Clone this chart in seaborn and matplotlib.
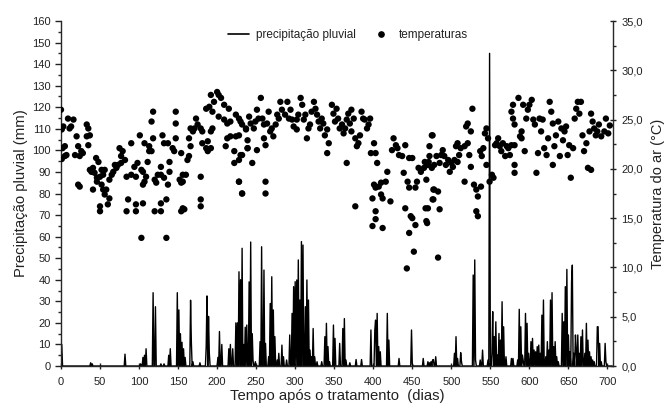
import numpy as np
import pandas as pd
import matplotlib
matplotlib.use("Agg")
import matplotlib.pyplot as plt
from matplotlib.lines import Line2D
from matplotlib.ticker import MultipleLocator, FuncFormatter
import seaborn as sns

# rain events (day after treatment, mm); all other days had no rain
rain_day = [0, 1, 38, 40, 82, 102, 105, 107, 109, 118, 121, 128, 132, 138, 140,
            149, 151, 153, 155, 157, 159, 166, 167, 169, 178, 186, 187, 189, 190,
            201, 203, 206, 215, 217, 220, 224, 226, 228, 230, 232, 234, 236, 238,
            241, 243, 245, 246, 249, 255, 257, 260, 262, 266, 268, 270, 272, 274,
            277, 279, 283, 285, 289, 293, 296, 298, 300, 302, 304, 306, 308, 310,
            313, 315, 317, 319, 321, 323, 325, 328, 334, 338, 340, 342, 344, 349,
            351, 357, 361, 363, 365, 370, 378, 385, 397, 402, 403, 405, 407, 409,
            418, 420, 433, 449, 450, 464, 470, 472, 474, 476, 477, 480, 504, 506,
            508, 512, 513, 528, 530, 531, 537, 540, 549, 547, 552, 553, 555, 557,
            559, 561, 563, 565, 567, 570, 577, 579, 585, 587, 589, 591, 592, 595,
            597, 599, 602, 604, 606, 608, 610, 612, 614, 616, 618, 621, 623, 625,
            627, 629, 631, 633, 635, 637, 642, 644, 646, 648, 650, 652, 654, 655,
            657, 659, 660, 662, 664, 666, 668, 671, 673, 675, 677, 679, 681, 683,
            687, 688, 690, 692, 697, 698]
rain_mm = [10, 10, 1.5, 1, 5.5, 1, 4, 5, 8, 34, 27.5, 1, 1, 5, 8,
           34, 26, 15, 11, 8, 4, 30.5, 11, 2, 1.5, 9, 32.5, 23, 6,
           4, 16, 10, 8, 10, 8, 20, 20, 43.7, 40, 54.6, 10, 18, 19,
           39, 57.5, 15, 2.7, 2, 11.3, 55.3, 44.5, 10.5, 4.3, 29, 41.4, 26, 13.6,
           2.8, 5.9, 9.7, 4.3, 2.8, 14.4, 24.4, 36.8, 39.1, 39.9, 49.2, 30.6, 57.7, 56.1,
           27.5, 39.9, 30.6, 7.4, 4.3, 17.4, 4.3, 2, 2, 13.6, 19.8, 9, 2, 19,
           12.8, 10.5, 17.4, 22, 2.8, 1.5, 3, 3, 16.7, 16.7, 21.3, 24.4, 9, 6.6,
           24.4, 12, 3.5, 16.7, 1, 3.5, 2, 1.5, 2, 2.8, 3, 4.3, 5.9, 13.6,
           3.5, 6.2, 2, 42.2, 49.2, 2.8, 2.8, 7.4, 145, 2.8, 5.9, 25.2, 13.6, 20.5,
           5.1, 15.1, 12, 29.8, 18.2, 4.3, 3.5, 3.5, 2.8, 26.3, 18.2, 5.1, 2.8, 24.4,
           19.8, 5.9, 11.3, 12.8, 7.4, 6.6, 9, 9.7, 5.9, 23.6, 30.6, 4.3, 11.3, 7.4,
           30.6, 34, 9, 11.3, 4.3, 2, 24.4, 20.5, 36.8, 44.8, 14.4, 6.6, 39.1, 46.8,
           5.9, 14.4, 6.6, 14.4, 5.9, 13.6, 16.7, 5.9, 19.8, 12, 6.6, 4.3, 2.8, 2,
           18.2, 18.2, 10.5, 2, 10.5, 2]

# air temperature readings (day, deg C)
temp_day = [0, 1, 2, 1, 9, 16, 11, 3, 13, 5, 7, 5, 20, 22, 18, 26, 24, 28, 33, 35, 33, 37, 35, 22, 24,
            37, 39, 41, 45, 48, 43, 46, 50, 52, 56, 54, 41, 46, 52, 54, 58, 56, 62, 50, 50, 60, 62,
            65, 67, 71, 73, 77, 75, 79, 82, 77, 69, 84, 86, 84, 90, 90, 96, 96, 94, 98, 101, 96, 105,
            107, 105, 103, 105, 103, 107, 113, 116, 113, 116, 118, 118, 111, 109, 120, 122, 124, 120,
            128, 128, 135, 135, 128, 128, 132, 130, 132, 137, 137, 139, 139, 143, 145, 147, 147, 147,
            154, 156, 152, 156, 160, 154, 154, 156, 158, 162, 164, 166, 164, 169, 173, 175, 171, 166,
            179, 181, 179, 179, 179, 181, 186, 188, 188, 192, 192, 194, 186, 190, 194, 192, 196, 200,
            202, 205, 202, 209, 215, 209, 213, 217, 224, 213, 217, 224, 228, 237, 230, 211, 222, 222,
            228, 232, 230, 228, 239, 239,
            228, 232, 262, 262, 232, 239, 245, 251, 260, 262,
            228, 232, 237, 241, 243, 247, 249, 251, 256, 253, 258, 260, 264, 266, 268, 270,
            272, 275, 277, 281, 283, 279, 287, 290, 292, 294, 296, 298, 302, 302, 304, 307, 309, 311,
            313, 315, 317, 319, 321, 324, 326, 328, 330, 332, 334, 336, 338, 341, 343, 341,
            347, 349, 351, 353, 355, 357, 360, 362, 364, 366, 368, 370, 372, 375, 377, 379, 381, 383,
            385, 387, 389, 392, 394, 396, 372, 366, 377,
            397, 401, 403, 405, 401, 403, 407, 410, 399, 399, 403, 403, 410, 412, 412, 416, 418, 422,
            426, 424, 429, 431, 433, 437, 439, 441, 446, 450, 444, 446, 441, 448, 450, 454, 446, 452,
            443, 456, 454, 458, 461, 465, 467, 469, 471, 475, 475, 477, 477,
            466, 470, 472, 468, 470, 468, 472, 476, 478, 478, 483, 485, 483, 476,
            481, 485, 487, 489, 491, 493, 496, 498, 500, 502, 504, 508, 506, 508, 510, 512, 517, 517,
            521, 523, 519, 521, 525, 527, 525, 529, 532, 534, 538, 532, 534,
            537, 539, 541, 543, 545, 547, 545, 549, 552, 554, 556, 558, 560, 562, 564, 566, 569, 571,
            573, 575, 577, 581,
            579, 577, 579, 581, 581, 581, 586, 590, 590, 588, 594, 592, 596, 598, 600, 603, 605, 607,
            609, 611, 613, 615, 617, 619, 622, 624, 626, 628, 630, 630, 632, 634, 637, 639, 641, 643,
            645, 647, 649, 651, 653, 656, 658, 660, 662, 664, 666, 668, 670, 673, 675, 677, 679, 681,
            683, 685, 687, 689, 692, 696, 698, 679, 701, 703]
temp_c = [26.0, 24.0, 22.1, 21.0, 25.1, 25.0, 24.1, 24.3, 24.3, 22.3, 21.4, 21.3, 23.3, 22.3, 21.4,
          21.8, 21.3, 21.6, 24.5, 24.1, 23.3, 23.4, 22.4, 18.4, 18.2,
          19.9, 19.7, 20.1, 21.1, 20.7, 19.6, 19.1, 19.2, 19.9, 19.9, 19.4, 17.9, 18.7, 18.4, 17.9,
          17.9, 17.4, 17.0, 16.2, 15.7, 16.4, 18.9,
          19.4, 19.7, 20.1, 20.4, 20.6, 22.1, 21.8, 20.9, 21.3, 20.4, 19.2, 16.9, 15.7, 19.4, 22.6,
          16.4, 15.7, 20.2, 20.6, 23.4, 19.2, 19.7,
          18.7, 18.4, 19.9, 16.5, 13.0, 22.6, 22.3, 21.8, 21.8, 24.8, 25.8, 23.1, 20.7, 19.2, 18.9,
          18.6, 19.4, 15.7,
          15.7, 16.5, 16.9, 13.0, 20.2, 19.4, 19.1, 23.4, 22.6, 22.6, 18.4, 19.7, 20.7, 22.1, 21.8,
          23.1, 25.8, 24.6,
          21.6, 19.4, 18.9, 18.7, 19.4, 18.6, 15.7, 16.0, 15.9, 20.9, 21.3, 22.3, 23.1, 23.8, 25.1,
          24.5, 24.1, 24.1,
          24.1, 23.8, 19.2, 16.9, 16.2, 22.6, 22.1, 21.8, 22.8, 22.1, 23.8, 24.1, 26.1, 26.3, 25.8,
          27.5, 26.8, 27.8,
          27.5, 27.2, 25.3, 26.5, 26.1, 25.0, 24.6, 24.8, 25.5, 23.1, 23.3, 23.3, 23.4, 24.0, 24.8,
          22.3, 21.8, 20.6,
          18.7, 17.5, 21.4, 20.9, 22.1, 22.9,
          18.7, 17.5, 18.7, 17.5, 21.4, 22.1, 20.6, 21.9, 23.1, 22.4,
          25.1, 24.5, 24.1, 25.3, 24.6, 24.1, 24.8, 26.0, 27.2, 25.1, 25.1, 24.5, 24.6, 25.8, 23.8, 24.1,
          23.3, 24.5, 25.5, 26.8, 26.0, 25.1, 25.5, 26.8, 25.1, 26.0, 25.0, 24.3, 25.0, 24.0, 25.5,
          27.2, 26.5, 25.0,
          25.5, 23.1, 24.1, 24.5, 25.8, 26.8, 26.1, 25.5, 24.8, 24.1, 25.1, 24.6, 23.4, 24.0, 22.6, 21.6,
          26.5, 25.6, 24.8, 26.1, 25.1, 24.1, 24.5, 23.6, 24.1, 25.0, 25.6, 24.6, 23.8, 25.1, 23.1,
          22.3, 22.6, 23.4,
          25.8, 25.1, 25.0, 24.1, 24.5, 25.1, 26.0, 20.6, 16.2,
          21.6, 22.6, 21.6, 20.6, 18.4, 18.1, 18.2, 18.6, 17.0, 14.2, 15.7, 14.9, 17.4, 17.0, 14.0,
          18.7, 19.7, 16.7,
          23.1, 21.9, 22.4, 22.1, 21.4, 21.3, 19.6, 22.4, 21.1, 21.1, 18.7, 18.1, 16.0, 15.2, 15.0,
          14.3, 13.5, 11.6,
          9.9, 18.7, 18.1, 20.1, 19.7, 20.1, 16.0, 14.5, 20.7, 23.4, 20.1, 17.9, 16.9,
          20.7, 20.4, 21.3, 18.9, 16.0, 14.7, 22.3, 23.4, 20.4, 17.9, 17.7, 15.9, 11.0, 16.9,
          21.3, 20.6, 21.4, 21.9, 21.3, 20.4, 20.9, 19.7, 20.6, 20.2, 20.9, 20.7, 22.3, 22.6, 21.4,
          22.1, 22.3, 18.7,
          22.6, 21.4, 24.3, 24.6, 23.8, 26.1, 20.2, 18.4, 17.9, 17.2, 18.2, 15.7, 15.2,
          21.8, 21.3, 22.1, 23.6, 24.1, 23.1, 20.4, 18.7, 19.4, 19.1, 22.4, 22.6, 23.1, 22.3, 21.8,
          22.6, 21.3, 22.3,
          22.1, 21.4, 22.4, 22.4,
          26.5, 25.8, 25.1, 24.5, 20.4, 19.6, 27.2, 23.8, 23.1, 23.3, 21.8, 26.5, 25.1, 26.0, 26.5,
          27.0, 25.0, 24.5,
          19.6, 21.6, 25.1, 23.8, 25.0, 22.1, 21.4, 23.1, 26.8, 25.8, 24.6, 20.4, 22.3, 23.4, 24.8,
          21.3, 24.1, 22.9,
          23.8, 24.3, 21.4, 22.4, 19.1, 22.1, 25.1, 26.1, 26.8, 25.6, 26.8, 23.4, 21.8, 22.6, 20.1,
          23.8, 25.6, 24.8,
          24.1, 23.4, 23.8, 24.5, 23.3, 23.8, 25.1, 19.9, 23.6, 24.4]

# daily rain series for the line
days = np.arange(0, 707)
rain = np.zeros(len(days))
rain[rain_day] = rain_mm
rain_df = pd.DataFrame({"dia": days, "chuva": rain})
temp_df = pd.DataFrame({"dia": temp_day, "temp": temp_c})

sns.set_style("ticks")
plt.rcParams["font.family"] = ["Liberation Sans", "DejaVu Sans"]
txt = "#222222"

fig = plt.figure(figsize=(6.65, 4.07), dpi=100)
ax = fig.add_axes([0.0917, 0.1007, 0.830, 0.8477])
ax2 = ax.twinx()

sns.lineplot(data=rain_df, x="dia", y="chuva", ax=ax, color="black", linewidth=1.0)
sns.scatterplot(data=temp_df, x="dia", y="temp", ax=ax2, color="black", s=21,
                edgecolor="none", zorder=3)

ax.set_xlim(0, 707)
ax.set_ylim(0, 160)
ax2.set_ylim(0, 35)

ax.xaxis.set_major_locator(MultipleLocator(50))
ax.yaxis.set_major_locator(MultipleLocator(10))
ax.yaxis.set_minor_locator(MultipleLocator(5))
ax2.yaxis.set_major_locator(MultipleLocator(5))
ax2.yaxis.set_minor_locator(MultipleLocator(2.5))
ax2.yaxis.set_major_formatter(FuncFormatter(lambda v, p: f"{v:.1f}".replace(".", ",")))

for a in (ax, ax2):
    a.spines["top"].set_visible(False)
    for s in ("left", "right", "bottom"):
        a.spines[s].set_linewidth(1.0)
ax.spines["right"].set_visible(False)
ax2.spines["left"].set_visible(False)
ax2.spines["bottom"].set_visible(False)

ax.tick_params(axis="x", direction="inout", length=4, width=1, labelsize=8, pad=6, colors=txt)
ax.tick_params(axis="y", which="major", direction="out", length=4, width=1, labelsize=8, colors=txt)
ax.tick_params(axis="y", which="minor", direction="out", length=2.5, width=1)
ax2.tick_params(axis="y", which="major", direction="inout", length=5, width=1, labelsize=8, colors=txt)
ax2.tick_params(axis="y", which="minor", direction="out", length=2.5, width=1)

ax.set_xlabel("Tempo após o tratamento  (dias)", fontsize=10.7, labelpad=1, color=txt)
ax.set_ylabel("Precipitação pluvial (mm)", fontsize=10.7, labelpad=3, color=txt)
ax2.set_ylabel("Temperatura do ar (°C)", fontsize=10.5, labelpad=6, color=txt)

handles = [Line2D([0], [0], color="black", lw=1.2),
           Line2D([0], [0], color="black", marker="o", lw=0, markersize=3.8)]
fig.legend(handles, ["precipitação pluvial", "temperaturas"], loc="center",
           bbox_to_anchor=(0.523, 0.914), ncol=2, frameon=False, fontsize=8.5,
           handlelength=1.8, columnspacing=1.2, handletextpad=0.6, labelcolor=txt)

fig.savefig("out.png", dpi=100)
